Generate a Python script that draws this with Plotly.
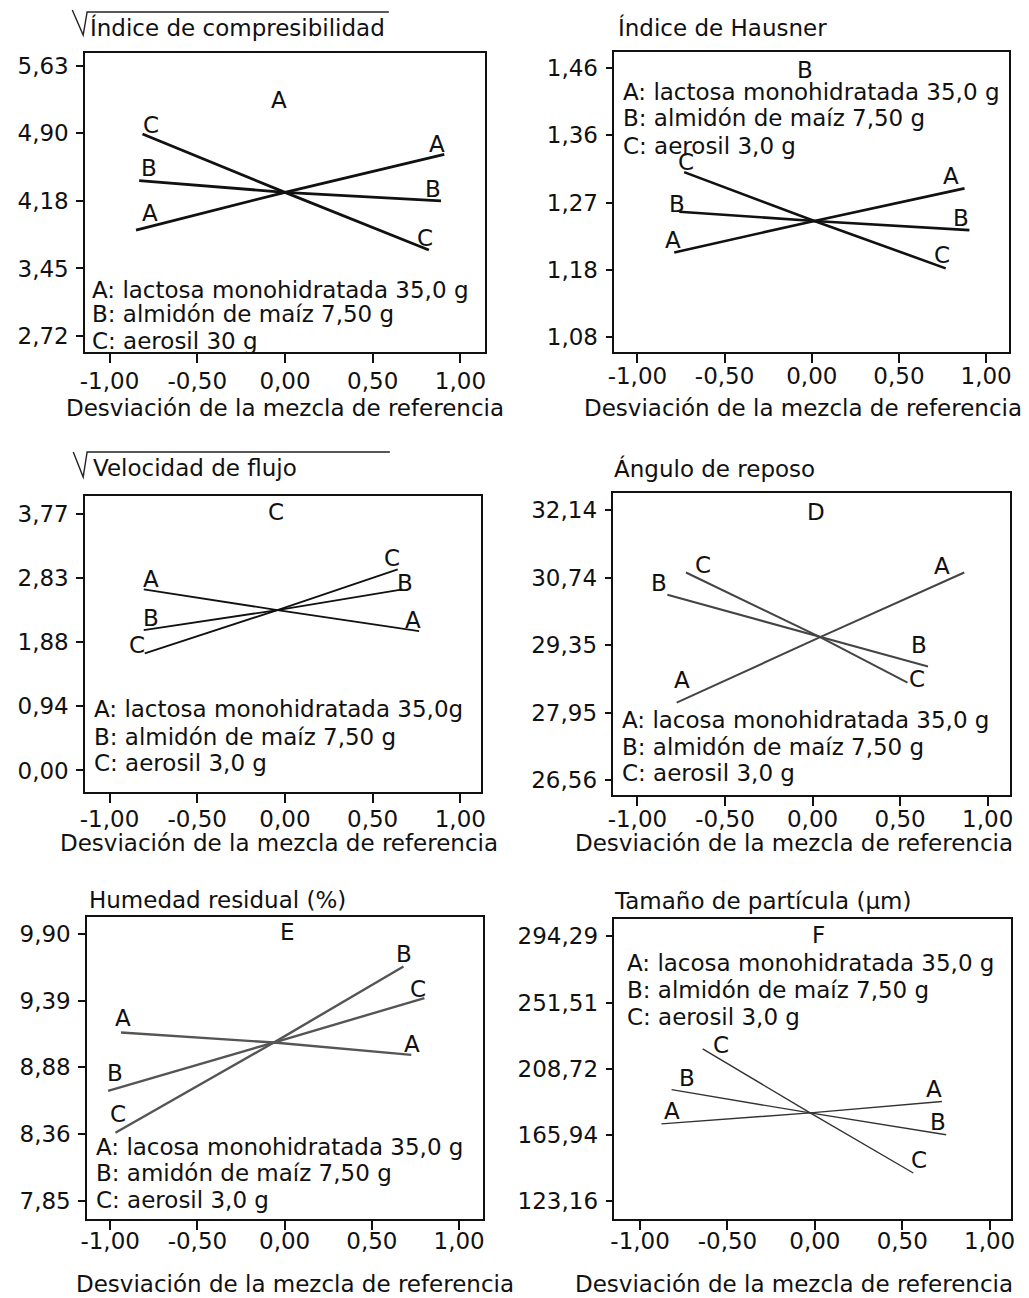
import numpy as np
import plotly.graph_objects as go

W, H = 1029, 1298
FONT = "DejaVu Sans"
FS = 23

# ---------------- data ----------------
factors = ["A", "B", "C"]
x_ticks = [-1.0, -0.5, 0.0, 0.5, 1.0]
x_tick_labels = ["-1,00", "-0,50", "0,00", "0,50", "1,00"]
x_title = "Desviación de la mezcla de referencia"

titles = ["Índice de compresibilidad", "Índice de Hausner", "Velocidad de flujo",
          "Ángulo de reposo", "Humedad residual (%)", "Tamaño de partícula (µm)"]
panel_letters = ["A", "B", "C", "D", "E", "F"]

y_labels_1 = ["5,63", "4,90", "4,18", "3,45", "2,72"]
y_labels_2 = ["1,46", "1,36", "1,27", "1,18", "1,08"]
y_labels_3 = ["3,77", "2,83", "1,88", "0,94", "0,00"]
y_labels_4 = ["32,14", "30,74", "29,35", "27,95", "26,56"]
y_labels_5 = ["9,90", "9,39", "8,88", "8,36", "7,85"]
y_labels_6 = ["294,29", "251,51", "208,72", "165,94", "123,16"]

# trace values: x (deviation) and y (response) for factors A, B, C
x1 = {"A": [-0.849, 0.0, 0.908], "B": [-0.831, 0.0, 0.889], "C": [-0.812, 0.0, 0.820]}
y1 = {"A": [3.861, 4.267, 4.676], "B": [4.392, 4.267, 4.174], "C": [4.895, 4.267, 3.646]}

x2 = {"A": [-0.789, 0.015, 0.876], "B": [-0.760, 0.015, 0.904], "C": [-0.732, 0.015, 0.768]}
y2 = {"A": [1.1995, 1.244, 1.290], "B": [1.257, 1.244, 1.231], "C": [1.313, 1.244, 1.177]}

x3 = {"A": [-0.805, -0.043, 0.765], "B": [-0.805, -0.043, 0.671], "C": [-0.799, -0.043, 0.643]}
y3 = {"A": [2.657, 2.354, 2.046], "B": [2.061, 2.354, 2.657], "C": [1.720, 2.354, 2.950]}

x4 = {"A": [-0.776, 0.043, 0.866], "B": [-0.829, 0.043, 0.659], "C": [-0.723, 0.043, 0.542]}
y4 = {"A": [28.16, 29.517, 30.855], "B": [30.393, 29.517, 28.908], "C": [30.855, 29.517, 28.576]}

x5 = {"A": [-0.938, -0.062, 0.726], "B": [-1.012, -0.062, 0.681], "C": [-0.970, -0.062, 0.801]}
y5 = {"A": [9.142, 9.065, 8.971], "B": [8.695, 9.065, 9.649], "C": [8.374, 9.065, 9.406]}

x6 = {"A": [-0.878, -0.027, 0.727], "B": [-0.820, -0.027, 0.751], "C": [-0.642, -0.027, 0.563]}
y6 = {"A": [173.2, 180.3, 187.7], "B": [195.3, 180.3, 166.2], "C": [221.6, 180.3, 141.5]}

legend_1 = ["A: lactosa monohidratada 35,0 g", "B: almidón de maíz 7,50 g", "C: aerosil 30 g"]
legend_2 = ["A: lactosa monohidratada 35,0 g", "B: almidón de maíz 7,50 g", "C: aerosil 3,0 g"]
legend_3 = ["A: lactosa monohidratada 35,0g", "B: almidón de maíz 7,50 g", "C: aerosil 3,0 g"]
legend_4 = ["A: lacosa monohidratada 35,0 g", "B: almidón de maíz 7,50 g", "C: aerosil 3,0 g"]
legend_5 = ["A: lacosa monohidratada 35,0 g", "B: amidón de maíz 7,50 g", "C: aerosil 3,0 g"]
legend_6 = ["A: lacosa monohidratada 35,0 g", "B: almidón de maíz 7,50 g", "C: aerosil 3,0 g"]

# ---------------- layout / style ----------------
panels = [
    dict(x=x1, y=y1, yl=y_labels_1, leg=legend_1, box=(80, 53, 484, 352),
         xr=[-1.139, 1.139], yr=[2.548, 5.767], lw=2.8, lc="#111111", xso=-1,
         title_xy=(83, 27), letter_xy=(276, 100), leg_x=85, leg_y=[290, 314, 341],
         xtitle_xy=(282, 408), radical=(67, 10, 78, 35, 82, 12, 387),
         off={"A": [(14, -17), (-7, -10)], "B": [(10, -13), (-8, -12)], "C": [(8, -9), (-4, -12)]}),
    dict(x=x2, y=y2, yl=y_labels_2, leg=legend_2, box=(615, 52, 1014, 352),
         xr=[-1.132, 1.132], yr=[1.0588, 1.4827], lw=2.6, lc="#111111", xso=-6,
         title_xy=(617, 27), letter_xy=(808, 70), leg_x=622, leg_y=[92, 118, 146],
         xtitle_xy=(806, 408), radical=None,
         off={"A": [(-1, -12), (-14, -12)], "B": [(-2, -8), (-8, -12)], "C": [(2, -10), (-4, -13)]}),
    dict(x=x3, y=y3, yl=y_labels_3, leg=legend_3, box=(80, 496, 480, 792),
         xr=[-1.139, 1.117], yr=[-0.316, 4.028], lw=1.8, lc="#111111", xso=-3,
         title_xy=(86, 468), letter_xy=(273, 512), leg_x=87, leg_y=[709, 737, 763],
         xtitle_xy=(276, 843), radical=(68, 452, 78, 477, 82, 452, 388),
         off={"A": [(7, -10), (-6, -11)], "B": [(7, -12), (2, -6)], "C": [(-8, -8), (-6, -11)]}),
    dict(x=x4, y=y4, yl=y_labels_4, leg=legend_4, box=(614, 493, 1015, 795),
         xr=[-1.137, 1.128], yr=[26.25, 32.50], lw=2.0, lc="#444444", xso=-6,
         title_xy=(613, 468), letter_xy=(819, 512), leg_x=621, leg_y=[720, 747, 773],
         xtitle_xy=(797, 843), radical=None,
         off={"A": [(5, -23), (-22, -6)], "B": [(-8, -12), (-9, -22)], "C": [(17, -7), (9, -4)]}),
    dict(x=x5, y=y5, yl=y_labels_5, leg=legend_5, box=(82, 917, 482, 1219),
         xr=[-1.132, 1.136], yr=[7.712, 10.028], lw=2.4, lc="#555555", xso=-8,
         title_xy=(82, 900), letter_xy=(285, 932), leg_x=89, leg_y=[1147, 1173, 1200],
         xtitle_xy=(292, 1284), radical=None,
         off={"A": [(2, -15), (1, -11)], "B": [(7, -18), (1, -12)], "C": [(3, -19), (-6, -9)]}),
    dict(x=x6, y=y6, yl=y_labels_6, leg=legend_6, box=(615, 919, 1016, 1219),
         xr=[-1.147, 1.123], yr=[111.8, 305.5], lw=1.4, lc="#333333", xso=-8,
         title_xy=(613, 901), letter_xy=(821, 935), leg_x=626, leg_y=[963, 990, 1017],
         xtitle_xy=(797, 1284), radical=None,
         off={"A": [(11, -13), (-8, -12)], "B": [(15, -12), (-8, -13)], "C": [(18, -4), (6, -13)]}),
]


def px(xp):
    return xp / W


def py(yp):
    return 1 - yp / H


fig = go.Figure()
annotations = []
shapes = []
font = dict(family=FONT, size=FS, color="#111111")

for i, p in enumerate(panels):
    n = i + 1
    xa = "x" if n == 1 else f"x{n}"
    ya = "y" if n == 1 else f"y{n}"
    l, t, r, b = p["box"]
    for f in factors:
        fig.add_trace(go.Scatter(x=p["x"][f], y=p["y"][f], mode="lines",
                                 line=dict(color=p["lc"], width=p["lw"]),
                                 xaxis=xa, yaxis=ya, showlegend=False, hoverinfo="skip"))
        # factor labels at both ends of each trace
        for k, idx in enumerate([0, -1]):
            dx, dy = p["off"][f][k]
            annotations.append(dict(x=p["x"][f][idx], y=p["y"][f][idx], xref=xa, yref=ya,
                                    text=f, showarrow=False, xshift=dx, yshift=-dy,
                                    font=font, xanchor="center", yanchor="middle"))
    yl = p["yl"]
    yv = np.linspace(float(yl[0].replace(",", ".")), float(yl[-1].replace(",", ".")), len(yl))
    ax_common = dict(showline=True, linecolor="#111111", linewidth=1.6, mirror=True,
                     showgrid=False, zeroline=False, ticks="outside", tickwidth=1.6,
                     tickcolor="#111111", tickfont=font)
    fig.layout[f"xaxis{'' if n == 1 else n}"] = dict(
        domain=[px(l), px(r)], range=p["xr"], anchor=ya,
        tickvals=x_ticks, ticktext=x_tick_labels, ticklen=9,
        ticklabelstandoff=p["xso"], **ax_common)
    fig.layout[f"yaxis{'' if n == 1 else n}"] = dict(
        domain=[py(b), py(t)], range=p["yr"], anchor=xa,
        tickvals=list(yv), ticktext=yl, ticklen=7, ticklabelstandoff=3, **ax_common)

    # titles
    tx, ty = p["title_xy"]
    annotations.append(dict(x=px(tx), y=py(ty), xref="paper", yref="paper", text=titles[i],
                            showarrow=False, xanchor="left", yanchor="middle", font=font))
    if p["radical"]:
        a0, a1, b0, b1, c0, c1, e0 = p["radical"]
        path = (f"M {px(a0)},{py(a1)} L {px(b0)},{py(b1)} "
                f"L {px(c0)},{py(c1)} L {px(e0)},{py(c1)}")
        shapes.append(dict(type="path", path=path, xref="paper", yref="paper",
                           line=dict(color="#222222", width=1.4)))
    lx, lyy = p["letter_xy"]
    annotations.append(dict(x=px(lx), y=py(lyy), xref="paper", yref="paper", text=panel_letters[i],
                            showarrow=False, xanchor="center", yanchor="middle", font=font))
    for txt, ly in zip(p["leg"], p["leg_y"]):
        annotations.append(dict(x=px(p["leg_x"]), y=py(ly), xref="paper", yref="paper", text=txt,
                                showarrow=False, xanchor="left", yanchor="middle", font=font))
    ax_x, ax_y = p["xtitle_xy"]
    annotations.append(dict(x=px(ax_x), y=py(ax_y), xref="paper", yref="paper", text=x_title,
                            showarrow=False, xanchor="center", yanchor="middle", font=font))

fig.update_layout(width=W, height=H, margin=dict(l=0, r=0, t=0, b=0),
                  paper_bgcolor="white", plot_bgcolor="white",
                  annotations=annotations, shapes=shapes, showlegend=False,
                  font=font)
fig.write_html("out.html", config={"displayModeBar": False},
               post_script="document.body.style.margin='0';document.body.style.overflow='hidden';")
